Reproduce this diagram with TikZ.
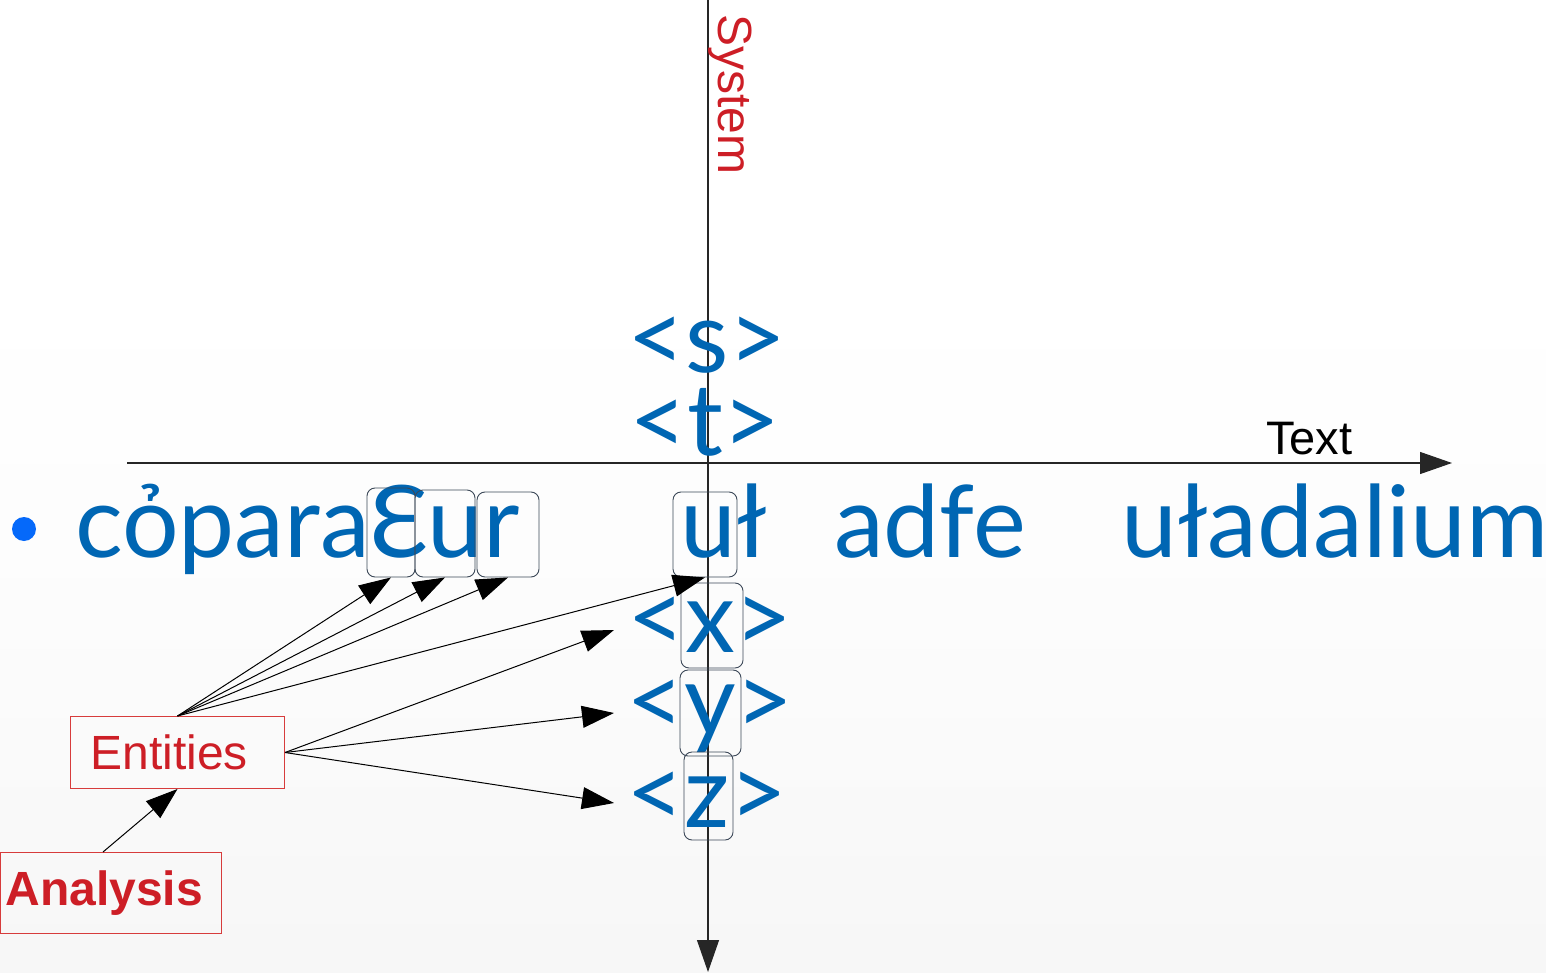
\documentclass[tikz,border=0pt]{standalone}
\usepackage{fontspec}
\setmainfont{Liberation Sans}
\newfontfamily\bluefont{Lato}
\usetikzlibrary{arrows.meta}
\definecolor{tblue}{RGB}{0,102,179}
\definecolor{bullblue}{RGB}{5,105,250}
\definecolor{tred}{RGB}{205,30,38}
\definecolor{bred}{RGB}{215,60,60}
\definecolor{boxgray}{RGB}{60,72,88}
\pgfdeclareverticalshading{bgshade}{100bp}{color(0bp)=(black!6); color(45bp)=(black!1); color(60bp)=(white); color(100bp)=(white)}
\tikzset{
  big/.style={font=\bluefont\fontsize{100}{100}\selectfont, text=tblue, inner sep=0pt},
  gbox/.style={draw=boxgray, line width=0.9pt, rounded corners=8pt, inner sep=0pt},
  rbox/.style={draw=bred, line width=1pt, inner ysep=0pt, text=tred, align=left},
  tipstyle/.style={-{Triangle[length=32pt,width=22pt]}},
  conn/.style={tipstyle, line width=1pt, black},
  axisline/.style={tipstyle, line width=1.2pt, black!85},
}
\begin{document}
\begin{tikzpicture}[x=1pt,y=-1pt]
\useasboundingbox (0,0) rectangle (1546,973);
\shade[shading=bgshade] (0,0) rectangle (1546,973);

% axes
\coordinate (hs) at (127,463);
\coordinate (he) at (1452,463);
\coordinate (vs) at (708,0);
\coordinate (ve) at (708,972);
\draw[axisline] (hs) -- (he);
\draw[axisline] (vs) -- (ve);
\node[font=\fontsize{47}{47}\selectfont, anchor=base west, inner sep=0pt] (txt) at (1266,454) {Text};
\node[font=\fontsize{48}{48}\selectfont, text=tred, anchor=base west, inner sep=0pt, rotate=-90] (sys) at (718,14) {System};

% blue text
\node[big, anchor=base] (ls) at (707,372) {<s>};
\node[big, anchor=base] (lt) at (705,455) {<t>};
\fill[bullblue] (24,529) circle (12) node (bul) {};
\node[big, anchor=base west] (w1) at (75,557) {cỏparaƐur};
\node[big, anchor=base west] (w2) at (680,557) {uł};
\node[big, anchor=base west] (w3) at (834,557) {adfe};
\node[big, anchor=base west] (w4) at (1121,557) {uładalium};
\node[big, anchor=base] (lx) at (710,652) {<x>};
\node[big, anchor=base] (ly) at (710,735) {<y>};
\node[big, anchor=base] (lz) at (707,827) {<z>};

% boxes
\node[gbox, minimum width=48pt, minimum height=89pt] (bE) at (391,532.5) {};
\node[gbox, minimum width=60pt, minimum height=87pt] (bu) at (445,533.5) {};
\node[gbox, minimum width=62pt, minimum height=85pt] (br) at (508,534.5) {};
\node[gbox, minimum width=64pt, minimum height=85pt] (bul2) at (705,534.5) {};
\node[gbox, minimum width=62pt, minimum height=85pt] (bx) at (712,625.5) {};
\node[gbox, minimum width=61pt, minimum height=86pt] (by) at (710.5,713) {};
\node[gbox, minimum width=49pt, minimum height=88pt] (bz) at (708.5,796) {};

% labels
\node[rbox, font=\fontsize{48}{48}\selectfont, minimum height=72pt, text width=174pt, inner xsep=20pt, anchor=north west] (ent) at (70,716) {Entities};
\node[rbox, font=\bfseries\fontsize{48}{48}\selectfont, minimum height=81pt, text width=211pt, inner xsep=5pt, anchor=north west] (ana) at (0,852) {Analysis};

% connector targets
\coordinate (tx) at (614,630);
\coordinate (ty) at (614,713);
\coordinate (tz) at (614,803);

\draw[conn] ([xshift=-8pt]ana.north) -- (ent.south);
\draw[conn] (ent.north) -- (bE.south);
\draw[conn] (ent.north) -- (bu.south);
\draw[conn] (ent.north) -- (br.south);
\draw[conn] (ent.north) -- (bul2.south);
\draw[conn] (ent.east) -- (tx);
\draw[conn] (ent.east) -- (ty);
\draw[conn] (ent.east) -- (tz);
\end{tikzpicture}
\end{document}
